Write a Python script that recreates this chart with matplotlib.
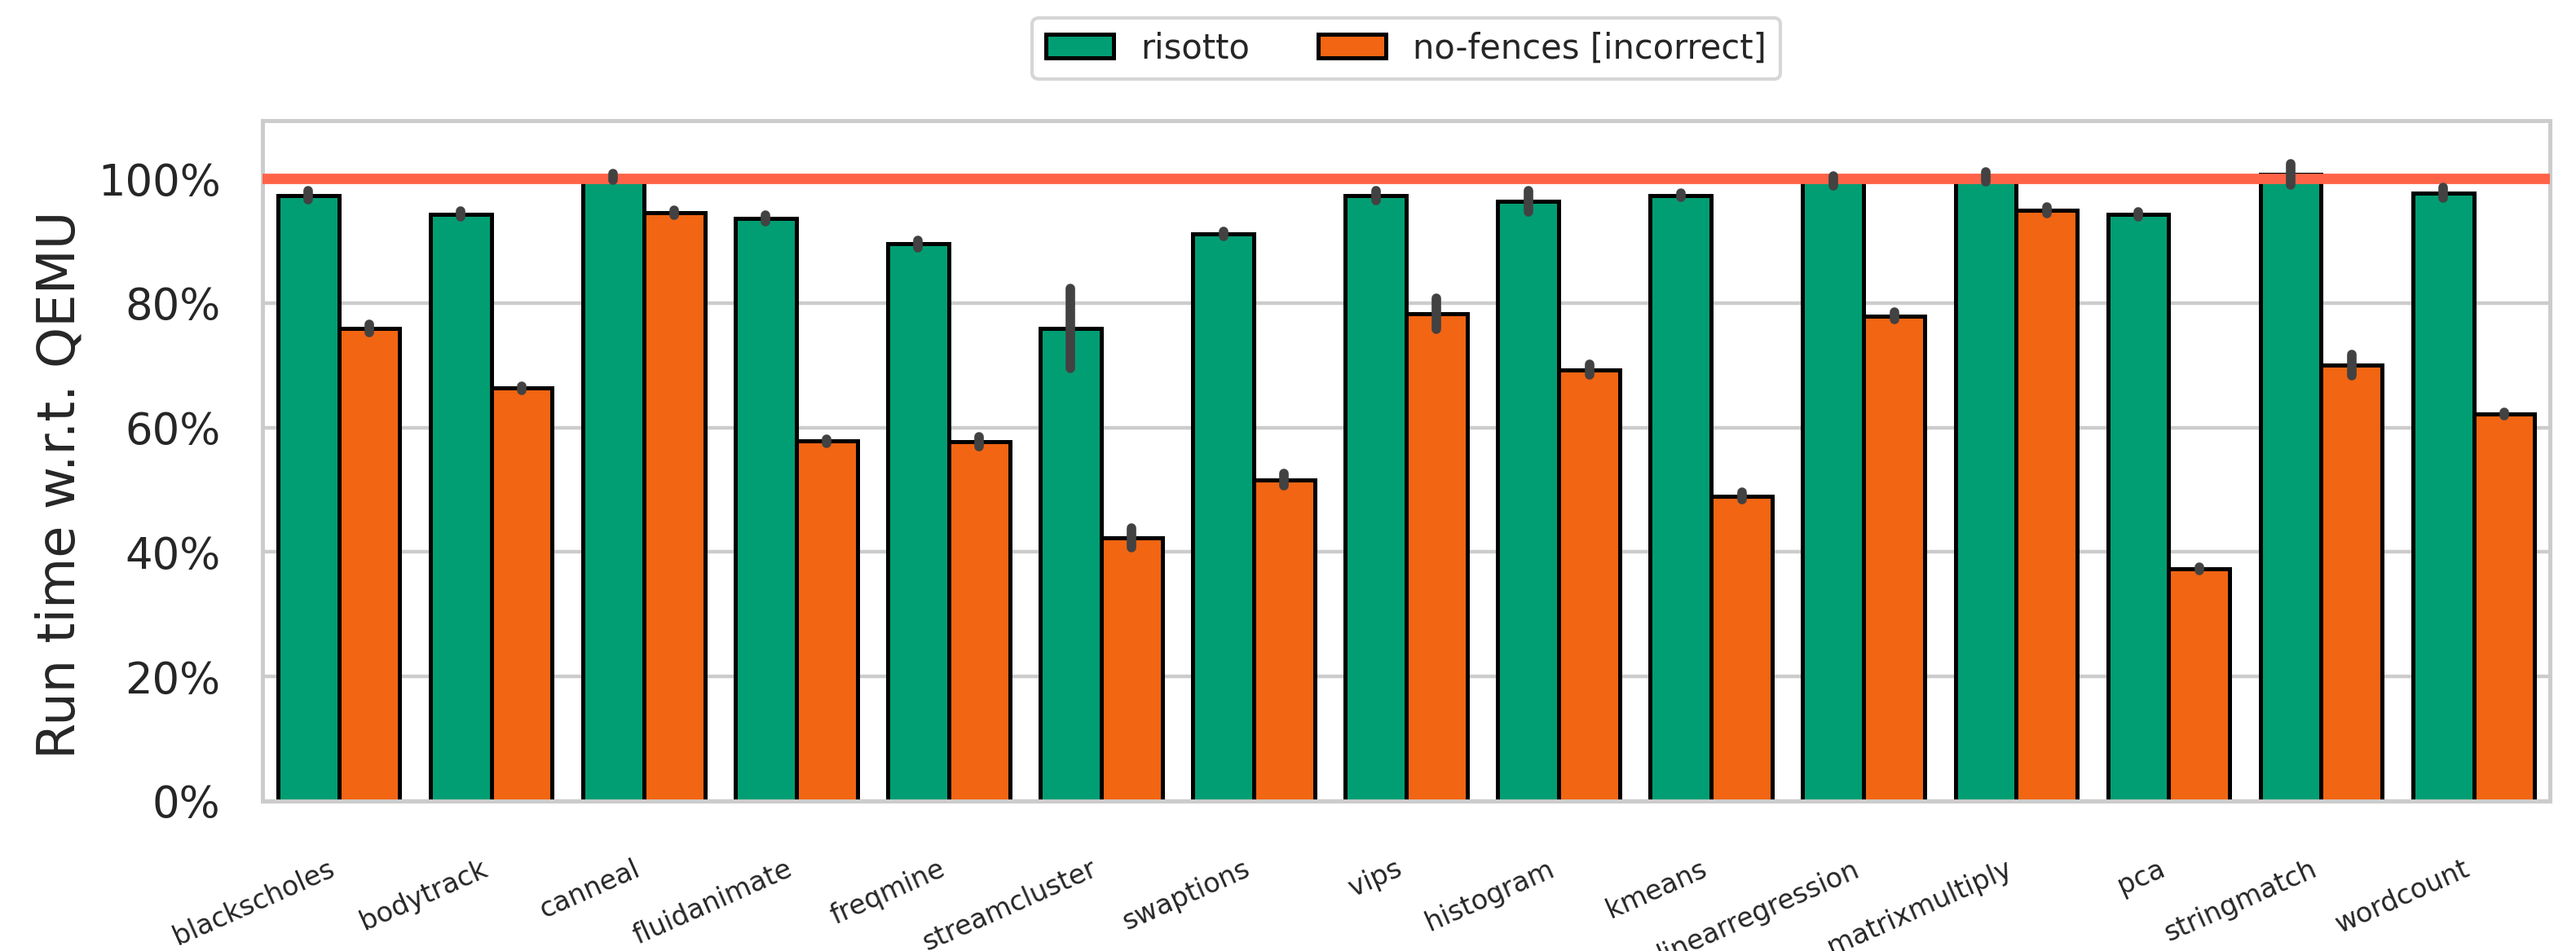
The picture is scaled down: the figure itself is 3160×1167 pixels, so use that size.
import matplotlib
matplotlib.use('Agg')
import matplotlib.pyplot as plt
from matplotlib.patches import Patch
from matplotlib.ticker import PercentFormatter
import numpy as np

benchmarks = ['blackscholes', 'bodytrack', 'canneal', 'fluidanimate', 'freqmine',
              'streamcluster', 'swaptions', 'vips', 'histogram', 'kmeans',
              'linearregression', 'matrixmultiply', 'pca', 'stringmatch', 'wordcount']

# run time relative to QEMU, in percent, with half-width of the error bar
risotto = [97.3, 94.3, 100.3, 93.6, 89.5, 75.9, 91.1, 97.3, 96.3, 97.3,
           99.6, 100.3, 94.2, 100.7, 97.7]
risotto_err = [0.7, 0.5, 0.5, 0.5, 0.6, 6.4, 0.4, 0.8, 1.7, 0.3,
               0.8, 0.8, 0.4, 1.7, 0.8]
no_fences = [75.9, 66.3, 94.5, 57.8, 57.7, 42.3, 51.6, 78.3, 69.3, 49.0,
             77.9, 94.9, 37.3, 70.0, 62.2]
no_fences_err = [0.7, 0.3, 0.4, 0.3, 0.8, 1.6, 1.0, 2.5, 0.9, 0.6,
                 0.6, 0.5, 0.3, 1.7, 0.3]

series_names = ['risotto', 'no-fences [incorrect]']
colors = ['#019e73', '#f26512']
ERR_COLOR = '#424242'


def draw_bars(ax, x, vals, errs, color):
    ax.bar(x, vals, width=0.4, color=color, edgecolor='black', linewidth=1.8, zorder=2)
    for xi, v, e in zip(x, vals, errs):
        ax.plot([xi, xi], [v - e, v + e], color=ERR_COLOR, linewidth=4.2,
                solid_capstyle='round', zorder=4)


fig = plt.figure(figsize=(15.8, 5.835), dpi=200)
ax = fig.add_axes([0.1019, 0.1577, 0.888, 0.7155])

idx = np.arange(len(benchmarks))
draw_bars(ax, idx - 0.2, risotto, risotto_err, colors[0])
draw_bars(ax, idx + 0.2, no_fences, no_fences_err, colors[1])

ax.axhline(100, color='tomato', linewidth=4.6, zorder=3)

ax.set_xlim(-0.5, len(benchmarks) - 0.5)
ax.set_ylim(0, 109.3)
ax.set_yticks([0, 20, 40, 60, 80, 100])
ax.yaxis.set_major_formatter(PercentFormatter(decimals=0))
ax.grid(axis='y', color='#cccccc', linewidth=1.6, zorder=0)
ax.set_axisbelow(True)
for s in ax.spines.values():
    s.set_color('#cccccc')
    s.set_linewidth(1.8)

ax.set_xticks(idx)
ax.set_xticklabels(benchmarks, rotation=24, ha='right', fontsize=12, color='#262626')
ax.tick_params(axis='x', length=0, pad=24)
ax.tick_params(axis='y', length=0, pad=18.5, labelsize=19, labelcolor='#262626')

ax.set_ylabel('Run time w.r.t. QEMU', fontsize=23, color='#262626')
ax.yaxis.set_label_coords(-0.0775, 0.465)

handles = [Patch(facecolor=c, edgecolor='black', linewidth=1.8) for c in colors]
leg = fig.legend(handles, series_names, loc='lower center', bbox_to_anchor=(0.5459, 0.9169),
                 ncol=2, fontsize=15, frameon=True, borderaxespad=0)
leg.get_frame().set_edgecolor('#cccccc')
leg.get_frame().set_linewidth(1.5)
for t in leg.get_texts():
    t.set_color('#262626')

plt.savefig('out.png', dpi=200)
